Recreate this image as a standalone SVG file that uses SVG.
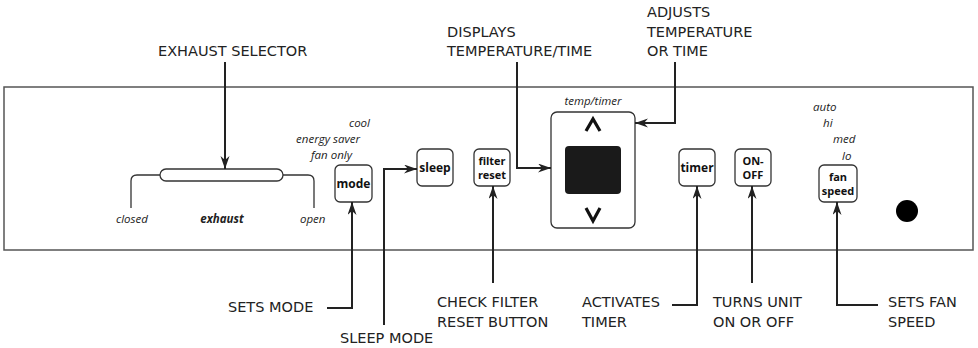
<svg xmlns="http://www.w3.org/2000/svg" width="978" height="348" viewBox="0 0 978 348">
<style>
.lbl{font-family:"DejaVu Sans","Liberation Sans",sans-serif;font-size:14.5px;fill:#222}
.it{font-family:"Open Sans","DejaVu Sans",sans-serif;font-style:italic;font-size:11.5px;fill:#222}
.btn{font-family:"Open Sans","DejaVu Sans",sans-serif;font-weight:bold;font-size:12px;fill:#111;text-anchor:middle}
.btn2{font-family:"Open Sans","DejaVu Sans",sans-serif;font-weight:bold;font-size:11px;fill:#111;text-anchor:middle}
.box{fill:#fff;stroke:#333;stroke-width:1.3}
.conn{fill:none;stroke:#222;stroke-width:2}
.thin{fill:none;stroke:#333;stroke-width:1.3}
</style>
<defs>
<marker id="ah" markerUnits="userSpaceOnUse" markerWidth="14" markerHeight="10" refX="13" refY="4.5" orient="auto">
<path d="M0,0 L13,4.5 L0,9 L4,4.5 z" fill="#222"/>
</marker>
</defs>
<rect id="panel" x="4" y="87" width="969" height="163" fill="none" stroke="#555" stroke-width="1.5"/>

<g id="exhaust">
<rect x="160" y="169" width="123" height="12" rx="6" class="box"/>
<path class="thin" d="M160,175 H137 Q131,175 131,181 V208"/>
<path class="thin" d="M283,175 H308 Q314,175 314,181 V208"/>
<text class="it" x="116" y="223">closed</text>
<text class="it" x="222" y="223" text-anchor="middle" font-weight="bold">exhaust</text>
<text class="it" x="300" y="223">open</text>
</g>

<g id="mode">
<text class="it" x="370" y="127" text-anchor="end">cool</text>
<text class="it" x="360" y="143" text-anchor="end">energy saver</text>
<text class="it" x="352" y="159" text-anchor="end">fan only</text>
<rect x="335" y="165" width="37" height="37" rx="5" class="box"/>
<text class="btn" x="353.5" y="188">mode</text>
</g>

<g id="sleep">
<rect x="417" y="149" width="36" height="37" rx="5" class="box"/>
<text class="btn" x="435" y="172">sleep</text>
</g>

<g id="filter-reset">
<rect x="474" y="149" width="36" height="37" rx="5" class="box"/>
<text class="btn2" x="492" y="165">filter</text>
<text class="btn2" x="492" y="178.5">reset</text>
</g>

<g id="display">
<text class="it" x="593" y="105" text-anchor="middle">temp/timer</text>
<rect x="551" y="112" width="84" height="116" rx="6" class="box"/>
<rect x="565" y="146" width="56" height="48" rx="4" fill="#1a1a1a"/>
<polyline points="586,131 593,119 600,131" fill="none" stroke="#111" stroke-width="3.2"/>
<polyline points="586,208 593,221 600,208" fill="none" stroke="#111" stroke-width="3.2"/>
</g>

<g id="timer">
<rect x="679" y="149" width="36" height="37" rx="5" class="box"/>
<text class="btn" x="697" y="172">timer</text>
</g>

<g id="on-off">
<rect x="735" y="149" width="36" height="37" rx="5" class="box"/>
<text class="btn2" x="753" y="165">ON-</text>
<text class="btn2" x="753" y="178.5">OFF</text>
</g>

<g id="fan-speed">
<text class="it" x="813" y="111">auto</text>
<text class="it" x="823" y="127">hi</text>
<text class="it" x="833" y="143">med</text>
<text class="it" x="842" y="160">lo</text>
<rect x="819" y="165" width="38" height="37" rx="5" class="box"/>
<text class="btn2" x="838" y="181">fan</text>
<text class="btn2" x="838" y="194.5">speed</text>
</g>

<circle id="knob" cx="907" cy="211" r="11" fill="#000"/>

<g id="connectors">
<path class="conn" d="M225,62 V169" marker-end="url(#ah)"/>
<path class="conn" d="M327,308 H352 V202" marker-end="url(#ah)"/>
<path class="conn" d="M384,325 V169 H417" marker-end="url(#ah)"/>
<path class="conn" d="M493,283 V186" marker-end="url(#ah)"/>
<path class="conn" d="M517,62 V168 H551" marker-end="url(#ah)"/>
<path class="conn" d="M675,62 V123 H635" marker-end="url(#ah)"/>
<path class="conn" d="M672,305 H697 V186" marker-end="url(#ah)"/>
<path class="conn" d="M752,283 V186" marker-end="url(#ah)"/>
<path class="conn" d="M878,305 H837 V202" marker-end="url(#ah)"/>
</g>

<g id="labels">
<text class="lbl" x="158" y="56">EXHAUST SELECTOR</text>
<text class="lbl" x="447" y="37">DISPLAYS</text>
<text class="lbl" x="447" y="56">TEMPERATURE/TIME</text>
<text class="lbl" x="647" y="17">ADJUSTS</text>
<text class="lbl" x="647" y="37">TEMPERATURE</text>
<text class="lbl" x="647" y="56">OR TIME</text>
<text class="lbl" x="228" y="312">SETS MODE</text>
<text class="lbl" x="340" y="343">SLEEP MODE</text>
<text class="lbl" x="437" y="307">CHECK FILTER</text>
<text class="lbl" x="437" y="327">RESET BUTTON</text>
<text class="lbl" x="582" y="307">ACTIVATES</text>
<text class="lbl" x="582" y="327">TIMER</text>
<text class="lbl" x="713" y="307">TURNS UNIT</text>
<text class="lbl" x="713" y="327">ON OR OFF</text>
<text class="lbl" x="888" y="307">SETS FAN</text>
<text class="lbl" x="888" y="327">SPEED</text>
</g>
</svg>
